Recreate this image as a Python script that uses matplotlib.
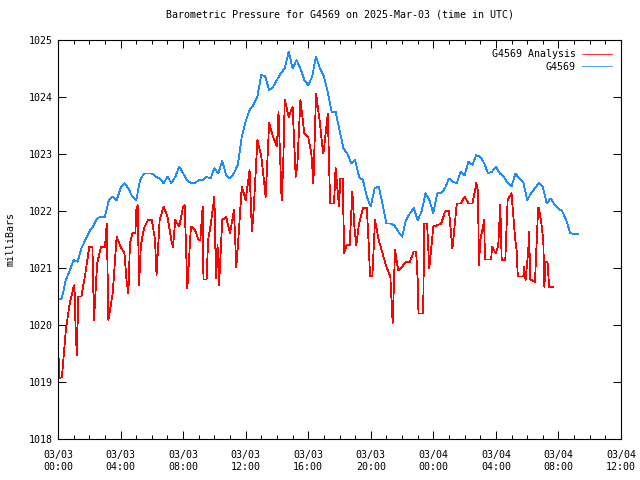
#!/usr/bin/env python3
"""Barometric pressure chart for G4569, 2025-03-03."""

from datetime import datetime, timedelta

import matplotlib
matplotlib.use('Agg')
import matplotlib.pyplot as plt
import matplotlib.dates as mdates

START = datetime(2025, 3, 3, 0, 0)

# observed station pressure, one reading per 15 minutes from 00:00
blue_mb = [
    1020.44, 1020.47, 1020.79, 1020.96, 1021.14, 1021.11, 1021.35, 1021.49,
    1021.64, 1021.73, 1021.87, 1021.90, 1021.90, 1022.19, 1022.25, 1022.19,
    1022.40, 1022.49, 1022.40, 1022.25, 1022.19, 1022.54, 1022.66, 1022.66,
    1022.66, 1022.60, 1022.57, 1022.49, 1022.60, 1022.49, 1022.60, 1022.78,
    1022.66, 1022.54, 1022.49, 1022.49, 1022.54, 1022.54, 1022.60, 1022.57,
    1022.75, 1022.66, 1022.88, 1022.63, 1022.57, 1022.66, 1022.81, 1023.30,
    1023.57, 1023.77, 1023.86, 1024.01, 1024.39, 1024.36, 1024.12, 1024.18,
    1024.30, 1024.42, 1024.50, 1024.80, 1024.50, 1024.65, 1024.50, 1024.30,
    1024.21, 1024.36, 1024.71, 1024.50, 1024.36, 1024.09, 1023.74, 1023.74,
    1023.42, 1023.10, 1023.01, 1022.84, 1022.89, 1022.60, 1022.54, 1022.25,
    1022.08, 1022.40, 1022.43, 1022.13, 1021.78, 1021.78, 1021.75, 1021.64,
    1021.55, 1021.84, 1021.96, 1022.05, 1021.84, 1021.99, 1022.31, 1022.19,
    1021.96, 1022.31, 1022.31, 1022.40, 1022.57, 1022.51, 1022.49, 1022.69,
    1022.63, 1022.87, 1022.81, 1022.98, 1022.95, 1022.84, 1022.66, 1022.69,
    1022.78, 1022.66, 1022.60, 1022.49, 1022.43, 1022.66, 1022.57, 1022.51,
    1022.19, 1022.31, 1022.40, 1022.49, 1022.43, 1022.13, 1022.22, 1022.11,
    1022.05, 1021.99, 1021.84, 1021.61, 1021.60, 1021.60,
]
blue_step_h = 0.25

# analysis values (hours after 00:00, millibars)
red_hours = [
    0.0, 0.1, 0.25, 0.5, 0.75, 1.0, 1.05, 1.12, 1.2, 1.3, 1.5, 1.75, 2.0, 2.2,
    2.3, 2.5, 2.75, 3.0, 3.12, 3.22, 3.5, 3.75, 4.0, 4.25, 4.39, 4.5, 4.6,
    4.75, 4.95, 5.0, 5.1, 5.18, 5.3, 5.5, 5.75, 6.0, 6.2, 6.3, 6.45, 6.5,
    6.75, 7.0, 7.25, 7.35, 7.5, 7.75, 8.0, 8.1, 8.27, 8.5, 8.75, 9.0, 9.1,
    9.25, 9.3, 9.5, 9.6, 9.75, 10.0, 10.1, 10.2, 10.3, 10.5, 10.75, 11.0,
    11.25, 11.4, 11.5, 11.75, 12.0, 12.25, 12.4, 12.5, 12.75, 13.0, 13.28,
    13.5, 13.75, 14.0, 14.1, 14.3, 14.4, 14.5, 14.75, 15.0, 15.2, 15.3, 15.5,
    15.75, 16.0, 16.2, 16.33, 16.5, 16.75, 16.95, 17.0, 17.25, 17.4, 17.65,
    17.75, 17.97, 18.05, 18.2, 18.3, 18.45, 18.65, 18.82, 18.95, 19.07, 19.25,
    19.5, 19.75, 19.87, 19.95, 20.1, 20.27, 20.5, 20.75, 21.0, 21.25, 21.4,
    21.55, 21.75, 22.0, 22.25, 22.5, 22.75, 22.9, 23.0, 23.05, 23.35, 23.42,
    23.6, 23.74, 24.0, 24.25, 24.5, 24.75, 25.0, 25.22, 25.5, 25.75, 26.0,
    26.25, 26.5, 26.75, 26.85, 26.92, 27.0, 27.25, 27.3, 27.7, 27.75, 28.0,
    28.15, 28.28, 28.37, 28.6, 28.75, 29.0, 29.22, 29.33, 29.4, 29.75, 29.8,
    29.9, 30.07, 30.12, 30.2, 30.5, 30.7, 30.75, 30.9, 31.03, 31.1, 31.18,
    31.3, 31.4, 31.67,
]
red_mb = [
    1019.65, 1019.06, 1019.09, 1019.91, 1020.38, 1020.67, 1020.70, 1020.00,
    1019.47, 1020.50, 1020.50, 1020.91, 1021.37, 1021.37, 1020.09, 1021.08,
    1021.37, 1021.37, 1021.78, 1020.09, 1020.56, 1021.55, 1021.37, 1021.26,
    1020.76, 1020.56, 1021.43, 1021.61, 1021.61, 1022.02, 1022.10, 1020.70,
    1021.40, 1021.70, 1021.84, 1021.84, 1021.50, 1020.88, 1021.60, 1021.84,
    1022.08, 1021.90, 1021.49, 1021.37, 1021.84, 1021.73, 1022.08, 1022.10,
    1020.64, 1021.73, 1021.67, 1021.49, 1021.49, 1022.08, 1020.80, 1020.80,
    1021.50, 1021.73, 1022.25, 1020.82, 1021.40, 1020.70, 1021.84, 1021.90,
    1021.61, 1022.02, 1021.02, 1021.37, 1022.43, 1022.19, 1022.72, 1021.64,
    1021.96, 1023.25, 1022.95, 1022.25, 1023.54, 1023.30, 1023.13, 1023.74,
    1022.19, 1022.80, 1023.95, 1023.65, 1023.83, 1022.60, 1022.78, 1023.95,
    1023.36, 1023.30, 1023.00, 1022.49, 1024.06, 1023.54, 1023.01, 1023.07,
    1023.71, 1022.13, 1022.13, 1022.75, 1022.08, 1022.57, 1022.57, 1021.26,
    1021.40, 1021.40, 1022.34, 1021.73, 1021.40, 1021.78, 1022.05, 1022.05,
    1021.40, 1020.86, 1020.86, 1021.84, 1021.50, 1021.26, 1021.02, 1020.85,
    1020.04, 1021.32, 1020.96, 1021.02, 1021.11, 1021.11, 1021.29, 1021.29,
    1020.79, 1020.20, 1020.20, 1021.78, 1021.78, 1020.99, 1021.73, 1021.75,
    1021.78, 1021.99, 1022.01, 1021.34, 1022.13, 1022.13, 1022.25, 1022.13,
    1022.13, 1022.49, 1022.35, 1021.05, 1021.49, 1021.84, 1021.15, 1021.15,
    1021.37, 1021.26, 1021.40, 1022.11, 1021.14, 1021.14, 1022.19, 1022.31,
    1021.55, 1021.29, 1020.85, 1020.85, 1021.02, 1020.79, 1021.30, 1021.64,
    1020.80, 1020.76, 1022.05, 1022.05, 1021.80, 1021.49, 1020.67, 1021.11,
    1021.11, 1020.67, 1020.67,
]

Y_MIN, Y_MAX = 1018, 1025
X_SPAN_H = 36


def main():
    plt.rcParams['font.family'] = 'DejaVu Sans Mono'
    plt.rcParams['font.size'] = 7.2

    blue_t = [START + timedelta(hours=i * blue_step_h) for i in range(len(blue_mb))]
    red_t = [START + timedelta(hours=h) for h in red_hours]

    fig, ax = plt.subplots(figsize=(6.4, 4.8), dpi=100)
    fig.subplots_adjust(left=58 / 640, right=621 / 640, top=1 - 40 / 480, bottom=1 - 439 / 480)

    ax.plot(red_t, red_mb, color='#ff0000', linewidth=0.55, antialiased=False,
            label='G4569 Analysis')
    ax.plot(blue_t, blue_mb, color='#1e8cff', linewidth=0.55, antialiased=False,
            label='G4569')

    ax.set_xlim(START, START + timedelta(hours=X_SPAN_H))
    ax.set_ylim(Y_MIN, Y_MAX)

    ax.xaxis.set_major_locator(mdates.HourLocator(byhour=range(0, 24, 4)))
    ax.xaxis.set_minor_locator(mdates.HourLocator())
    ax.xaxis.set_major_formatter(mdates.DateFormatter('%m/%d\n%H:%M'))
    ax.set_yticks(range(Y_MIN, Y_MAX + 1))

    ax.tick_params(which='both', direction='in', top=True, right=True)
    ax.tick_params(which='major', length=6, width=0.75)
    ax.tick_params(which='minor', length=3, width=0.75)
    ax.tick_params(axis='x', pad=8)
    for side in ax.spines.values():
        side.set_linewidth(0.8)

    ax.set_title('Barometric Pressure for G4569 on 2025-Mar-03 (time in UTC)',
                 fontsize=7.2, pad=16)
    ax.set_ylabel('milliBars', labelpad=10)

    ax.legend(loc='upper right', frameon=False, markerfirst=False,
              handlelength=3.0, handletextpad=0.6, labelspacing=0.25,
              borderaxespad=0.5)

    plt.savefig('out.png', dpi=100)


if __name__ == '__main__':
    main()
